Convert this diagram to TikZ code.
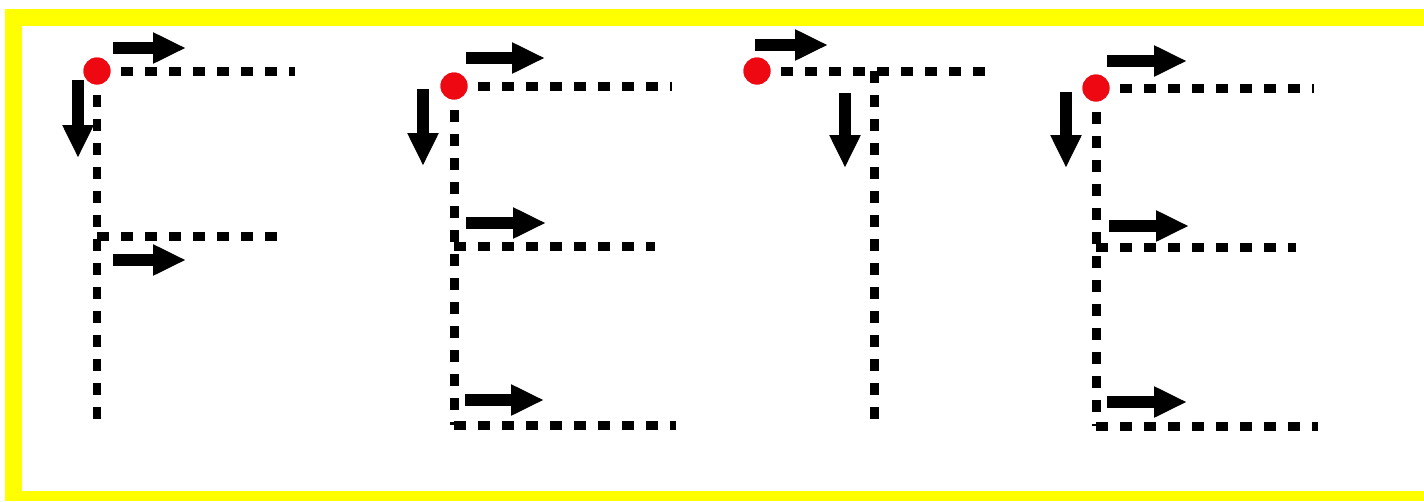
\documentclass[tikz,border=0pt]{standalone}
\usetikzlibrary{arrows.meta}
\definecolor{frameyellow}{RGB}{255,255,0}
\definecolor{dotred}{RGB}{238,8,18}
\tikzset{
  dashline/.style={
    line width=0.18cm,
    dash pattern=on 0.24cm off 0.24cm,
    line cap=butt
  },
  strokearrow/.style={
    -{Triangle[length=0.66cm,width=0.58cm]},
    line width=0.23cm
  },
  startdot/.style={
    circle,
    fill=dotred,
    minimum size=0.54cm,
    inner sep=0pt
  }
}

\begin{document}
\begin{tikzpicture}[x=0.02cm,y=-0.02cm]
  \useasboundingbox (0,0) rectangle (1424,501);
  % frame
  \fill[frameyellow] (5,9) rectangle (1424,501);
  \fill[white] (22,26) rectangle (1424,491);

  % letter F
  \node[startdot] (Fdot) at (97,71) {};
  \coordinate (Ftop) at (295,71);
  \coordinate (Fbase) at (97,420);
  \coordinate (Fmid) at (97,236);
  \coordinate (Fmidend) at (280,236);
  \draw[dashline] (Fdot.center) -- (Ftop);
  \draw[dashline] (Fdot.center) -- (Fbase);
  \draw[dashline] (Fmid) -- (Fmidend);
  \draw[strokearrow] (113,48) -- (186,48);
  \draw[strokearrow] (78,80) -- (78,158);
  \draw[strokearrow] (113,260) -- (186,260);

  % first E
  \node[startdot] (Adot) at (454,86) {};
  \coordinate (Atop) at (672,86);
  \coordinate (Acorner) at (454,425);
  \coordinate (Abase) at (676,425);
  \coordinate (Amid) at (454,246);
  \coordinate (Amidend) at (655,246);
  \draw[dashline] (Adot.center) -- (Atop);
  \draw[dashline] (Adot.center) -- (Acorner);
  \draw[dashline] (Acorner) -- (Abase);
  \draw[dashline] (Amid) -- (Amidend);
  \draw[strokearrow] (466,58) -- (545,58);
  \draw[strokearrow] (423,89) -- (423,166);
  \draw[strokearrow] (466,223) -- (546,223);
  \draw[strokearrow] (465,400) -- (544,400);

  % letter T
  \node[startdot] (Tdot) at (757,71) {};
  \coordinate (Ttop) at (994,71);
  \coordinate (Tstem) at (874,71);
  \coordinate (Tfoot) at (874,420);
  \draw[dashline] (Tdot.center) -- (Ttop);
  \draw[dashline] (Tstem) -- (Tfoot);
  \draw[strokearrow] (755,45) -- (828,45);
  \draw[strokearrow] (845,93) -- (845,168);

  % second E
  \node[startdot] (Bdot) at (1096,88) {};
  \coordinate (Btop) at (1314,88);
  \coordinate (Bcorner) at (1096,426);
  \coordinate (Bbase) at (1318,426);
  \coordinate (Bmid) at (1096,247);
  \coordinate (Bmidend) at (1296,247);
  \draw[dashline] (Bdot.center) -- (Btop);
  \draw[dashline] (Bdot.center) -- (Bcorner);
  \draw[dashline] (Bcorner) -- (Bbase);
  \draw[dashline] (Bmid) -- (Bmidend);
  \draw[strokearrow] (1107,61) -- (1187,61);
  \draw[strokearrow] (1066,92) -- (1066,168);
  \draw[strokearrow] (1109,226) -- (1189,226);
  \draw[strokearrow] (1107,402) -- (1187,402);

  % dots on top of the lines
  \foreach \d in {Fdot,Adot,Tdot,Bdot}
    \fill[dotred] (\d) circle[radius=13.5];
\end{tikzpicture}
\end{document}
